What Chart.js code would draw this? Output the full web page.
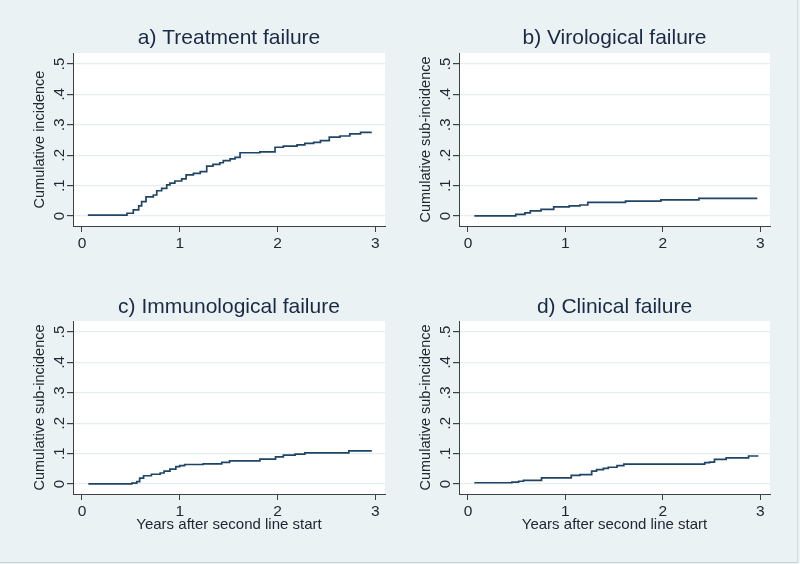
<!doctype html>
<meta charset="utf-8">
<title>Cumulative incidence of second-line failure</title>
<style>
    body {
        margin: 0;
        background: #eaf2f3;
    }
    #wrap {
        position: relative;
        width: 800px;
        height: 564px;
    }
    #wrap canvas {
        position: absolute;
    }
    #frame {
        position: absolute;
        left: 0;
        top: 0;
        width: 797px;
        height: 562px;
        border-right: 1px solid #d3dbde;
        border-bottom: 1px solid #c9d1d4;
    }
</style>
<body>
    <div id="wrap">
        <div id="frame"></div>
        <canvas id="a" width="400" height="282" style="left: 0; top: 0;"></canvas>
        <canvas id="b" width="400" height="282" style="left: 400px; top: 0;"></canvas>
        <canvas id="c" width="400" height="282" style="left: 0; top: 282px;"></canvas>
        <canvas id="d" width="400" height="282" style="left: 400px; top: 282px;"></canvas>
    </div>
    <script src="https://cdn.jsdelivr.net/npm/chart.js@4.4.0/dist/chart.umd.min.js"></script>
    <script>
        // axes shared by all four panels
        const xTicks = [0, 1, 2, 3];
        const xTickLabels = ["0", "1", "2", "3"];
        const yTicks = [0, 0.1, 0.2, 0.3, 0.4, 0.5];
        const yTickLabels = ["0", ".1", ".2", ".3", ".4", ".5"];
        const xAxisTitle = "Years after second line start";

        // a) Treatment failure
        const aTimes = [0.06, 0.46, 0.525, 0.58, 0.61, 0.655, 0.73, 0.765, 0.815, 0.867, 0.9, 0.95, 1.02, 1.065, 1.14, 1.21, 1.276, 1.34, 1.41, 1.446, 1.515, 1.566, 1.617, 1.82, 1.975, 2.06, 2.2, 2.28, 2.37, 2.44, 2.53, 2.64, 2.74, 2.85, 2.965];
        const aValues = [0.003, 0.009, 0.02, 0.033, 0.047, 0.063, 0.069, 0.083, 0.091, 0.102, 0.108, 0.115, 0.122, 0.135, 0.14, 0.146, 0.164, 0.17, 0.175, 0.182, 0.188, 0.193, 0.208, 0.211, 0.226, 0.23, 0.234, 0.239, 0.242, 0.248, 0.259, 0.263, 0.27, 0.275, 0.275];

        // b) Virological failure
        const bTimes = [0.065, 0.49, 0.585, 0.64, 0.75, 0.88, 1.04, 1.15, 1.23, 1.617, 1.98, 2.37, 2.97];
        const bValues = [0, 0.005, 0.01, 0.017, 0.022, 0.03, 0.033, 0.036, 0.045, 0.049, 0.053, 0.058, 0.058];

        // c) Immunological failure
        const cTimes = [0.065, 0.51, 0.56, 0.59, 0.63, 0.71, 0.8, 0.84, 0.9, 0.96, 1.0, 1.05, 1.24, 1.43, 1.51, 1.82, 1.98, 2.06, 2.18, 2.28, 2.73, 2.965];
        const cValues = [0, 0.003, 0.008, 0.019, 0.027, 0.032, 0.036, 0.042, 0.049, 0.057, 0.06, 0.064, 0.066, 0.071, 0.076, 0.082, 0.089, 0.095, 0.098, 0.102, 0.109, 0.109];

        // d) Clinical failure
        const dTimes = [0.065, 0.45, 0.52, 0.57, 0.755, 1.06, 1.15, 1.27, 1.32, 1.39, 1.44, 1.53, 1.6, 2.43, 2.48, 2.53, 2.65, 2.88, 2.98];
        const dValues = [0.004, 0.006, 0.009, 0.012, 0.02, 0.028, 0.031, 0.042, 0.047, 0.051, 0.055, 0.06, 0.065, 0.07, 0.072, 0.081, 0.086, 0.092, 0.092];

        const FONT = "'Liberation Sans', Arial, sans-serif";
        const axisColor = "#3b4148";
        const textColor = "#222831";
        const titleColor = "#1b2944";
        const gridColor = "#e6eef0";

        // white plot region behind the grid
        const whitePlot = {
            id: "whitePlot",
            beforeDraw: (chart) => {
                const {ctx, chartArea: a} = chart;
                ctx.save();
                ctx.fillStyle = "#ffffff";
                ctx.fillRect(a.left, a.top, a.right - a.left, a.bottom - a.top);
                ctx.restore();
            },
        };

        const plot = (p) => {
            const yTitleSize = 14.5;
            const padLeft = p.yTitleAt - yTitleSize * 1.2 / 2;
            const xBoxH = p.xTitle ? 39.5 : 30;
            new Chart(document.getElementById(p.id), {
                type: "line",
                data: {
                    datasets: [{
                        data: p.times.map((t, i) => ({x: t, y: p.values[i]})),
                        stepped: true,
                        borderColor: "#1f4566",
                        borderWidth: 1.7,
                        pointRadius: 0,
                        fill: false,
                    }],
                },
                options: {
                    responsive: false,
                    animation: false,
                    devicePixelRatio: 1,
                    layout: {
                        padding: {left: padLeft, right: 400 - p.right, top: 0, bottom: 282 - p.bottom - xBoxH},
                    },
                    plugins: {
                        legend: {display: false},
                        tooltip: {enabled: false},
                        title: {
                            display: true,
                            text: p.title,
                            fullSize: false,
                            color: titleColor,
                            font: {family: FONT, size: 21, weight: "normal", lineHeight: 1},
                            padding: {top: p.titleAt - 10.5, bottom: p.top - p.titleAt - 10.5},
                        },
                    },
                    scales: {
                        x: {
                            type: "linear",
                            min: -0.092,
                            max: 3.1,
                            afterBuildTicks: (s) => { s.ticks = xTicks.map(v => ({value: v})); },
                            afterFit: (s) => { s.height = xBoxH; },
                            grid: {drawOnChartArea: false, tickLength: 6, tickColor: axisColor},
                            border: {color: axisColor, width: 1},
                            ticks: {
                                padding: 2,
                                color: textColor,
                                font: {family: FONT, size: 15.5},
                                callback: (v, i) => xTickLabels[i],
                            },
                            title: {
                                display: p.xTitle,
                                text: xAxisTitle,
                                padding: 0,
                                color: textColor,
                                font: {family: FONT, size: 15},
                            },
                        },
                        y: {
                            min: -0.033,
                            max: 0.536,
                            afterBuildTicks: (s) => { s.ticks = yTicks.map(v => ({value: v})); },
                            afterFit: (s) => { s.width = p.left - padLeft; },
                            grid: {color: gridColor, lineWidth: 1.2, tickLength: 6, tickColor: axisColor},
                            border: {color: axisColor, width: 1},
                            ticks: {
                                minRotation: 90,
                                maxRotation: 90,
                                crossAlign: "center",
                                padding: 1,
                                color: textColor,
                                font: {family: FONT, size: 15},
                                callback: (v, i) => yTickLabels[i],
                            },
                            title: {
                                display: true,
                                text: p.yTitle,
                                padding: 0,
                                color: textColor,
                                font: {family: FONT, size: yTitleSize},
                            },
                        },
                    },
                },
                plugins: [whitePlot],
            });
        };

        plot({id: "a", title: "a) Treatment failure", yTitle: "Cumulative incidence", times: aTimes, values: aValues,
              left: 73, right: 385, top: 53, bottom: 226, titleAt: 38.2, yTitleAt: 39.5, xTitle: false});
        plot({id: "b", title: "b) Virological failure", yTitle: "Cumulative sub-incidence", times: bTimes, values: bValues,
              left: 59, right: 370, top: 53, bottom: 226, titleAt: 38.2, yTitleAt: 25.5, xTitle: false});
        plot({id: "c", title: "c) Immunological failure", yTitle: "Cumulative sub-incidence", times: cTimes, values: cValues,
              left: 73, right: 385, top: 39, bottom: 212, titleAt: 25.2, yTitleAt: 39.5, xTitle: true});
        plot({id: "d", title: "d) Clinical failure", yTitle: "Cumulative sub-incidence", times: dTimes, values: dValues,
              left: 59, right: 370, top: 39, bottom: 212, titleAt: 25.2, yTitleAt: 25.5, xTitle: true});
    </script>
</body>
